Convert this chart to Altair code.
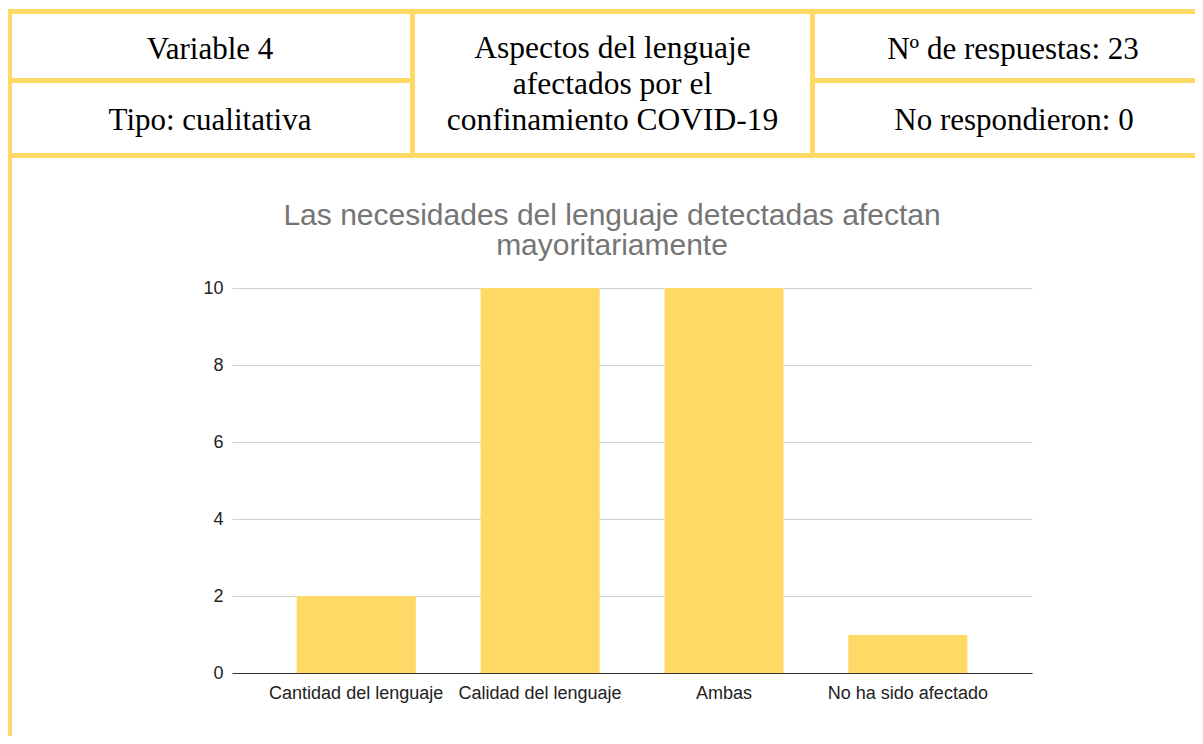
import altair as alt
import pandas as pd

# ---- data ----
categories = ["Cantidad del lenguaje", "Calidad del lenguaje", "Ambas", "No ha sido afectado"]
values = [2, 10, 10, 1]
y_ticks = [0, 2, 4, 6, 8, 10]
chart_title = ["Las necesidades del lenguaje detectadas afectan", "mayoritariamente"]
header_left = ["Variable 4", "Tipo: cualitativa"]
header_mid = ["Aspectos del lenguaje", "afectados por el", "confinamiento COVID-19"]
header_right = ["Nº de respuestas: 23", "No respondieron: 0"]

df = pd.DataFrame({"categoria": categories, "respuestas": values})
one = alt.Data(values=[{"k": 0}])

YELLOW = "#FFD966"
SANS = "Liberation Sans"
SERIF = "Liberation Serif"

bars = alt.Chart(df).mark_bar(
    color=YELLOW, cornerRadiusTopLeft=2, cornerRadiusTopRight=2
).encode(
    x=alt.X(
        "categoria:N", sort=categories,
        scale=alt.Scale(paddingInner=0.35, paddingOuter=0.35),
        axis=alt.Axis(title=None, labelAngle=0, labelFont=SANS, labelFontSize=18,
                      labelColor="#222222", labelBaseline="alphabetic", labelPadding=25,
                      ticks=False, domainColor="#333333", domainWidth=1,
                      labelOverlap=False, labelLimit=0, grid=False, zindex=1),
    ),
    y=alt.Y(
        "respuestas:Q", scale=alt.Scale(domain=[0, 10], nice=False),
        axis=alt.Axis(title=None, values=y_ticks, labelFont=SANS, labelFontSize=18,
                      labelColor="#222222", labelPadding=9, ticks=False, domain=False,
                      gridColor="#d0d0d0", format="d"),
    ),
)

def hline(y, x1, x2):
    return alt.Chart(one).mark_rule(color=YELLOW, strokeWidth=5).encode(
        x=alt.value(x1), x2=alt.value(x2), y=alt.value(y))

def vline(x, y1, y2):
    return alt.Chart(one).mark_rule(color=YELLOW, strokeWidth=5).encode(
        x=alt.value(x), y=alt.value(y1), y2=alt.value(y2))

def label(txt, x, y, font, size, color, lh=None):
    kw = dict(font=font, fontSize=size, color=color, align="center", baseline="alphabetic")
    if lh is not None:
        kw["lineHeight"] = lh
    return alt.Chart(one).mark_text(**kw).encode(
        x=alt.value(x), y=alt.value(y), text=alt.value(txt))

borders = [
    hline(-276.5, -240, 980),
    hline(-207.5, -240, 180.5),
    hline(-207.5, 580.5, 980),
    hline(-132.5, -240, 980),
    vline(-222.5, -279, 460),
    vline(180.5, -279, -130),
    vline(580.5, -279, -130),
]

texts = [
    label(header_left[0], -22, -229, SERIF, 31, "#000000"),
    label(header_left[1], -22, -158, SERIF, 31, "#000000"),
    label(header_mid, 380.5, -230, SERIF, 31.5, "#000000", lh=36),
    label(header_right[0], 781, -229, SERIF, 31, "#000000"),
    label(header_right[1], 782, -158, SERIF, 31, "#000000"),
    label(chart_title, 380, -63, SANS, 30, "#757575", lh=30),
]

chart = alt.layer(bars, *borders, *texts).properties(
    width=800, height=385,
    padding={"left": 224, "top": 280, "right": 163, "bottom": 63},
    autosize=alt.AutoSizeParams(type="none"),
    background="white",
).configure_view(stroke=None)

chart.save("out.html", embed_options={"renderer": "svg", "actions": False})
